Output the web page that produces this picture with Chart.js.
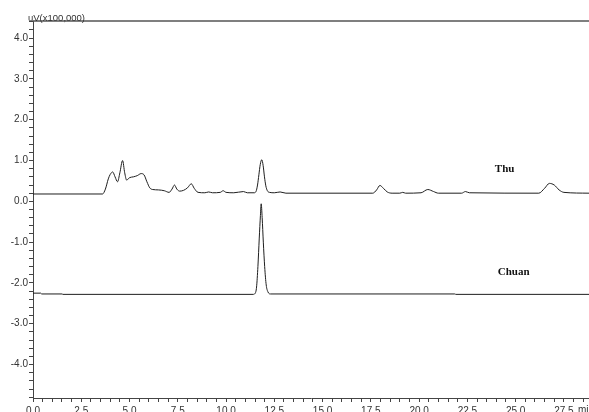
<!DOCTYPE html>
<html>
<head>
<meta charset="utf-8">
<script src="https://cdn.jsdelivr.net/npm/chart.js@4.4.0/dist/chart.umd.min.js"></script>
<style>
  html, body { margin: 0; padding: 0; overflow: hidden; background: #fff; }
  #wrap { width: 589px; height: 420px; }
</style>
</head>
<body>
<div id="wrap"><canvas id="chrom" width="589" height="420"></canvas></div>
<script>
// retention time (min) and detector signal (uV x100,000) for each run
var thuTime = [
  0, 3.6, 3.75, 3.9, 4.0, 4.13, 4.25, 4.38, 4.5, 4.64, 4.75, 4.85, 5.0, 5.2, 5.4,
  5.6, 5.75, 5.9, 6.05, 6.2, 6.5, 6.8, 7.05, 7.2, 7.33, 7.45, 7.6, 7.8, 8.0, 8.2,
  8.35, 8.55, 8.9, 9.1, 9.3, 9.7, 9.85, 10.0, 10.4, 10.9, 11.1, 11.45, 11.55,
  11.63, 11.7, 11.77, 11.85, 11.92, 11.99, 12.06, 12.14, 12.25, 12.5, 12.8, 13.1,
  17.6, 17.8, 17.97, 18.15, 18.35, 18.6, 19.0, 19.15, 19.3, 20.1, 20.45, 20.75,
  21.0, 22.2, 22.4, 22.6, 26.2, 26.5, 26.75, 27.0, 27.25, 27.5, 28.8
];
var thuSignal = [
  0.18, 0.18, 0.3, 0.55, 0.66, 0.72, 0.6, 0.48, 0.7, 1.0, 0.7, 0.52, 0.58, 0.6, 0.63,
  0.68, 0.65, 0.48, 0.33, 0.29, 0.28, 0.26, 0.22, 0.3, 0.4, 0.3, 0.25, 0.27, 0.33, 0.43,
  0.32, 0.22, 0.21, 0.23, 0.21, 0.22, 0.26, 0.22, 0.21, 0.24, 0.21, 0.21, 0.24,
  0.4, 0.65, 0.9, 1.02, 0.88, 0.6, 0.38, 0.26, 0.22, 0.21, 0.23, 0.2,
  0.2, 0.28, 0.39, 0.32, 0.23, 0.2, 0.2, 0.22, 0.2, 0.21, 0.29, 0.24,
  0.2, 0.2, 0.24, 0.21, 0.2, 0.32, 0.44, 0.4, 0.28, 0.22, 0.2
];
var chuanTime = [
  0, 0.4, 0.45, 1.5, 1.55, 11.4, 11.5, 11.58, 11.65, 11.72, 11.78, 11.82, 11.87,
  11.93, 12.0, 12.08, 12.17, 12.3, 21.85, 21.9, 28.8
];
var chuanSignal = [
  -2.25, -2.25, -2.27, -2.27, -2.28, -2.28, -2.26, -2.1, -1.6, -0.9, -0.35, -0.06, -0.4,
  -1.0, -1.6, -2.05, -2.22, -2.27, -2.27, -2.28, -2.28
];
var traceNames = ["Thu", "Chuan"];
var timeTickLabels = ["0.0", "2.5", "5.0", "7.5", "10.0", "12.5", "15.0", "17.5", "20.0", "22.5", "25.0", "27.5"];
var signalTickLabels = ["-4.0", "-3.0", "-2.0", "-1.0", "0.0", "1.0", "2.0", "3.0", "4.0"];

// where the run names sit, in axis units
var nameAnchors = [{ x: 24.43, y: 0.8 }, { x: 24.9, y: -1.74 }];

function toPoints(ts, vs) {
  return ts.map(function (t, i) { return { x: t, y: vs[i] }; });
}

function pickLabel(list, v) {
  for (var i = 0; i < list.length; i++) {
    if (Math.abs(parseFloat(list[i]) - v) < 1e-6) return list[i];
  }
  return "";
}

var axisFont = { family: "Liberation Sans", size: 10 };

var extras = {
  id: "extras",
  afterDraw: function (chart) {
    var ctx = chart.ctx, area = chart.chartArea, sx = chart.scales.x, sy = chart.scales.y;
    ctx.save();
    // frame line along the top
    ctx.strokeStyle = "#555";
    ctx.lineWidth = 1.5;
    ctx.beginPath();
    ctx.moveTo(area.left, area.top);
    ctx.lineTo(chart.width, area.top);
    ctx.stroke();
    // units
    ctx.fillStyle = "#333";
    ctx.font = "9.5px 'Liberation Sans'";
    ctx.textAlign = "left";
    ctx.textBaseline = "alphabetic";
    ctx.fillText("uV(x100,000)", 28, area.top - 0.5);
    ctx.font = "10px 'Liberation Sans'";
    ctx.textBaseline = "top";
    ctx.fillText("min", 578, area.bottom + 7);
    // run names
    ctx.fillStyle = "#111";
    ctx.font = "bold 11px 'Liberation Serif'";
    ctx.textAlign = "center";
    ctx.textBaseline = "middle";
    traceNames.forEach(function (name, i) {
      ctx.fillText(name, sx.getPixelForValue(nameAnchors[i].x), sy.getPixelForValue(nameAnchors[i].y));
    });
    ctx.restore();
  }
};

new Chart(document.getElementById("chrom"), {
  type: "line",
  data: {
    datasets: [
      {
        label: traceNames[0],
        data: toPoints(thuTime, thuSignal),
        borderColor: "#1e1e1e",
        borderWidth: 1,
        pointRadius: 0,
        cubicInterpolationMode: "monotone"
      },
      {
        label: traceNames[1],
        data: toPoints(chuanTime, chuanSignal),
        borderColor: "#1e1e1e",
        borderWidth: 1,
        pointRadius: 0,
        cubicInterpolationMode: "monotone"
      }
    ]
  },
  options: {
    responsive: false,
    animation: false,
    layout: { padding: { top: 21, left: 0, right: 0, bottom: 0 } },
    plugins: { legend: { display: false }, tooltip: { enabled: false } },
    scales: {
      x: {
        type: "linear",
        min: 0,
        max: 28.8,
        afterFit: function (s) { s.height = 22; },
        grid: { drawOnChartArea: false, tickLength: 4, color: "#444" },
        border: { color: "#444", width: 1 },
        ticks: {
          stepSize: 0.5,
          autoSkip: false,
          maxRotation: 0,
          includeBounds: false,
          padding: 3,
          color: "#333",
          font: axisFont,
          callback: function (v) { return pickLabel(timeTickLabels, v); }
        }
      },
      y: {
        min: -4.82,
        max: 4.42,
        afterFit: function (s) { s.width = 33; },
        grid: { drawOnChartArea: false, tickLength: 4, color: "#444" },
        border: { color: "#444", width: 1 },
        ticks: {
          stepSize: 0.2,
          autoSkip: false,
          includeBounds: false,
          padding: 1,
          color: "#333",
          font: axisFont,
          callback: function (v) { return pickLabel(signalTickLabels, v); }
        }
      }
    }
  },
  plugins: [extras]
});
</script>
</body>
</html>
